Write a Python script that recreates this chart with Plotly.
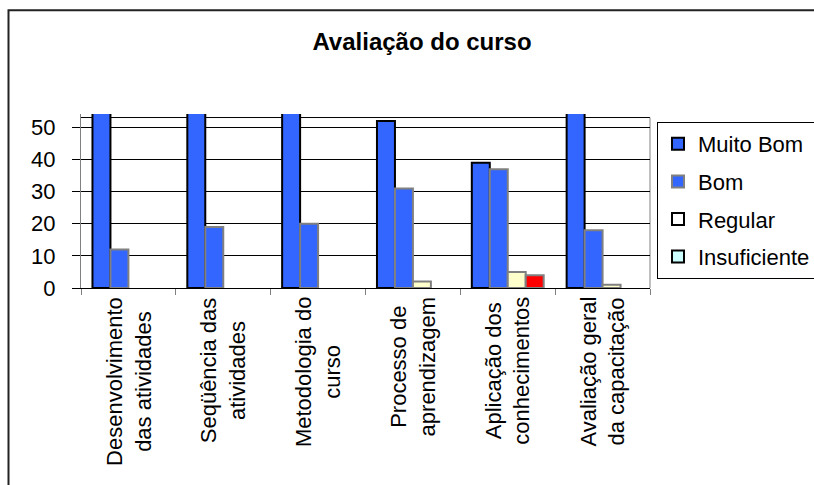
import plotly.graph_objects as go

categories = [
    "Desenvolvimento<br>das atividades",
    "Seqüência das<br>atividades",
    "Metodologia do<br>curso",
    "Processo de<br>aprendizagem",
    "Aplicação dos<br>conhecimentos",
    "Avaliação geral<br>da capacitação",
]
cat_keys = ["c1", "c2", "c3", "c4", "c5", "c6"]

muito_bom = [73, 66, 65, 52, 39, 66]
bom = [12, 19, 20, 31, 37, 18]
regular = [None, None, None, 2, 5, 1]
insuficiente = [None, None, None, None, 4, None]

series_names = ["Muito Bom", "Bom", "Regular", "Insuficiente"]
y_ticks = [0, 10, 20, 30, 40, 50]

FONT = "Liberation Sans, Arial, sans-serif"
BLUE = "#3366FF"
GRAY = "#808080"

W, H = 814, 485
L, R, T, B = 81, 164, 113.5, 197
pw, ph = W - L - R, H - T - B

fig = go.Figure()

fig.add_trace(go.Bar(
    name=series_names[0], x=cat_keys, y=muito_bom, legendgroup="a",
    marker=dict(color=BLUE, line=dict(color="black", width=2)),
))
fig.add_trace(go.Bar(
    name=series_names[1], x=cat_keys, y=bom, legendgroup="b",
    marker=dict(color=BLUE, line=dict(color=GRAY, width=2)),
))
fig.add_trace(go.Bar(
    name=series_names[2], x=cat_keys, y=regular, legendgroup="c",
    marker=dict(color=["white"] + ["#FFFFCC"] * 5,
                line=dict(color=["black"] + [GRAY] * 5, width=2)),
))
fig.add_trace(go.Bar(
    name=series_names[3], x=cat_keys, y=insuficiente, legendgroup="d",
    marker=dict(color=["#CCFFFF", "#CCFFFF", "#CCFFFF", "#CCFFFF", "#FF0000", "#CCFFFF"],
                line=dict(color=["black"] + [GRAY] * 5, width=2)),
))

# category labels, rotated with centered lines
for key, lab in zip(cat_keys, categories):
    fig.add_annotation(
        x=key, xref="x", y=0, yref="paper", yanchor="top", xanchor="center",
        yshift=-7, text=lab, textangle=-90, align="center", showarrow=False,
        font=dict(family=FONT, size=22, color="black"),
    )

# plot-area top border (behind bars)
fig.add_shape(type="line", xref="x domain", yref="y", x0=0, x1=1, y0=53.1, y1=53.1,
              line=dict(color="black", width=1), layer="below")
fig.add_shape(type="line", xref="x domain", yref="y domain", x0=1, x1=1, y0=0, y1=53.1 / 54.2,
              line=dict(color=GRAY, width=1), layer="below")

# outer chart border
fig.add_shape(type="rect", xref="paper", yref="paper",
              x0=(8.5 - L) / pw, x1=(W + 20 - L) / pw,
              y0=-(B + 20) / ph, y1=(H - B - 9.5) / ph,
              line=dict(color="#222222", width=2), layer="below")

fig.update_layout(
    width=W, height=H,
    margin=dict(l=L, r=R, t=T, b=B, pad=0, autoexpand=False),
    paper_bgcolor="white", plot_bgcolor="white",
    barmode="group", bargap=0.242, bargroupgap=0,
    font=dict(family=FONT, size=22, color="black"),
    title=dict(text="<b>Avaliação do curso</b>", x=422 / W, xanchor="center",
               y=1 - 42 / H, yanchor="middle", yref="container",
               font=dict(family=FONT, size=24, color="black")),
    showlegend=True,
    legend=dict(xref="container", yref="container",
                x=657 / W, xanchor="left", y=1 - 122 / H, yanchor="top",
                bgcolor="white", bordercolor="black", borderwidth=1,
                font=dict(family=FONT, size=22, color="black"),
                tracegroupgap=6, traceorder="grouped"),
    xaxis=dict(
        type="category", categoryorder="array", categoryarray=cat_keys,
        showticklabels=False, ticks="outside", tickson="boundaries",
        ticklen=6, tickcolor=GRAY, tickwidth=1,
        showline=True, linecolor="black", linewidth=1,
        showgrid=False, zeroline=False,
    ),
    yaxis=dict(
        range=[0, 54.2], tickvals=y_ticks, ticktext=[str(v) for v in y_ticks],
        ticks="outside", ticklen=8, tickcolor="black", tickwidth=1,
        ticklabelstandoff=12,
        showgrid=True, gridcolor="black", gridwidth=1,
        showline=True, linecolor=GRAY, linewidth=1,
        zeroline=False,
        tickfont=dict(family=FONT, size=22, color="black"),
    ),
)

fig.write_html("out.html")
